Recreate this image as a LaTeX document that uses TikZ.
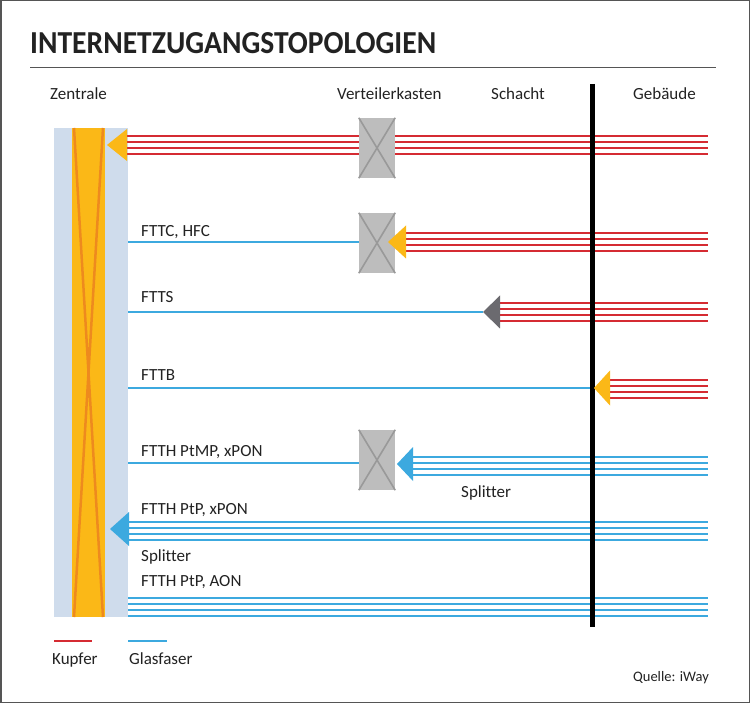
\documentclass[tikz,border=0pt]{standalone}
\usepackage{fontspec}
\usepackage{graphicx}
\setmainfont{Carlito}[Ligatures=NoCommon]
\definecolor{panel}{HTML}{CFDCEC}
\definecolor{yel}{HTML}{FBB817}
\definecolor{org}{HTML}{EE8A1E}
\definecolor{cured}{HTML}{D52B32}
\definecolor{gfblue}{HTML}{3CA9DF}
\definecolor{boxgray}{HTML}{BDBDBD}
\definecolor{boxx}{HTML}{999999}
\definecolor{darkarrow}{HTML}{6B6A6F}
\definecolor{txt}{HTML}{222222}
\definecolor{frame}{HTML}{555555}
\newcommand\mybundle[3]{\foreach \o in {-9,-3,3,9}{\draw[#1] ([yshift=\o pt]#2) -- ([yshift=\o pt]#3);}}
\begin{document}
\begin{tikzpicture}[x=1pt,y=-1pt,
  lbl/.style={anchor=base west, inner sep=0pt, font=\fontsize{17}{19}\selectfont, text=txt},
  cu/.style={draw=cured, line width=2pt},
  gf/.style={draw=gfblue, line width=2pt},
  kasten/.style={draw=none, fill=boxgray, minimum width=36pt, minimum height=60pt, inner sep=0pt},
  kx/.style={draw=boxx, line width=1.6pt}]
\useasboundingbox (0,0) rectangle (750,703);
\fill[white] (0,0) rectangle (750,703);
\draw[frame, line width=1.5pt] (0.75,0.75) rectangle (749.25,702.25);
% title
\node[anchor=base west, inner sep=0pt, text=txt] (title) at (30,54) {\resizebox{406pt}{21pt}{\bfseries INTERNETZUGANGSTOPOLOGIEN}};
\coordinate (rl) at (30,68); \coordinate (rr) at (716,68);
\draw[frame, line width=1pt] (rl) -- (rr);
% headers
\node[lbl] (hz) at (50,100) {Zentrale};
\node[lbl] (hv) at (337,100) {Verteilerkasten};
\node[lbl] (hs) at (491,100) {Schacht};
\node[lbl] (hg) at (633,100) {Gebäude};
% Zentrale panel
\fill[panel] (54,128) rectangle (128,617);
\fill[yel] (72,128) rectangle (105,617);
\coordinate (x1) at (74,128); \coordinate (x2) at (103,617);
\coordinate (x3) at (103,128); \coordinate (x4) at (74,617);
\draw[org, line width=2.5pt] (x1) -- (x2) (x3) -- (x4);
% row 1
\coordinate (r1s) at (127,145); \coordinate (r1e) at (708,145);
\mybundle{cu}{r1s}{r1e}
\node[kasten] (k1) at (377,148) {};
\draw[kx] (k1.north west) -- (k1.south east) (k1.north east) -- (k1.south west);
\coordinate (a1) at (107,145);
\fill[yel] (a1) -- ++(20,-16) -- ++(0,32) -- cycle;
% row 2
\node[lbl] (l2) at (141,237) {FTTC, HFC};
\node[kasten] (k2) at (377,243) {};
\draw[kx] (k2.north west) -- (k2.south east) (k2.north east) -- (k2.south west);
\coordinate (b2) at (128,242);
\draw[gf] (b2) -- (b2 -| k2.west);
\coordinate (r2s) at (406,242); \coordinate (r2e) at (708,242);
\mybundle{cu}{r2s}{r2e}
\coordinate (a2) at (388,242);
\fill[yel] (a2) -- ++(18,-16.5) -- ++(0,33) -- cycle;
% row 3
\node[lbl] (l3) at (141,303) {FTTS};
\coordinate (b3) at (128,312); \coordinate (a3) at (483,312);
\draw[gf] (b3) -- (a3);
\coordinate (r3s) at (500,312); \coordinate (r3e) at (708,312);
\mybundle{cu}{r3s}{r3e}
\fill[darkarrow] (a3) -- ++(17,-16.5) -- ++(0,33) -- cycle;
% row 4
\node[lbl] (l4) at (141,381) {FTTB};
\coordinate (b4) at (128,388); \coordinate (a4) at (594,388);
\draw[gf] (b4) -- (a4);
\coordinate (r4s) at (610,389); \coordinate (r4e) at (708,389);
\mybundle{cu}{r4s}{r4e}
% row 5
\node[lbl] (l5) at (141,456) {FTTH PtMP, xPON};
\node[kasten] (k3) at (377,460) {};
\draw[kx] (k3.north west) -- (k3.south east) (k3.north east) -- (k3.south west);
\coordinate (b5) at (128,463);
\draw[gf] (b5) -- (b5 -| k3.west);
\coordinate (r5s) at (413,466); \coordinate (r5e) at (708,466);
\mybundle{gf}{r5s}{r5e}
\coordinate (a5) at (397,464);
\fill[gfblue] (a5) -- ++(16,-17) -- ++(0,34) -- cycle;
\node[lbl] (sp1) at (461,497) {Splitter};
% row 6
\node[lbl] (l6) at (141,514) {FTTH PtP, xPON};
\coordinate (r6s) at (129,530.5); \coordinate (r6e) at (708,530.5);
\mybundle{gf}{r6s}{r6e}
\coordinate (a6) at (110,529);
\fill[gfblue] (a6) -- ++(19,-17) -- ++(0,34) -- cycle;
\node[lbl] (sp2) at (141,561) {Splitter};
% row 7
\node[lbl] (l7) at (141,586) {FTTH PtP, AON};
\coordinate (r7s) at (128,606.5); \coordinate (r7e) at (708,606.5);
\mybundle{gf}{r7s}{r7e}
% building wall
\coordinate (w1) at (592,84); \coordinate (w2) at (592,627);
\draw[black, line width=5pt] (w1) -- (w2);
\fill[yel] (a4) -- ++(16,-17.5) -- ++(0,35) -- cycle;
% legend
\coordinate (k1a) at (54,641); \coordinate (k1b) at (92,641);
\draw[cu] (k1a) -- (k1b);
\coordinate (g1a) at (128,641); \coordinate (g1b) at (167,641);
\draw[gf] (g1a) -- (g1b);
\node[lbl] (kup) at (52,664) {Kupfer};
\node[lbl] (gla) at (129,664) {Glasfaser};
\node[anchor=base east, inner sep=0pt, font=\fontsize{14.5}{16}\selectfont, text=txt] (q) at (709,681) {Quelle: iWay};
\end{tikzpicture}
\end{document}
